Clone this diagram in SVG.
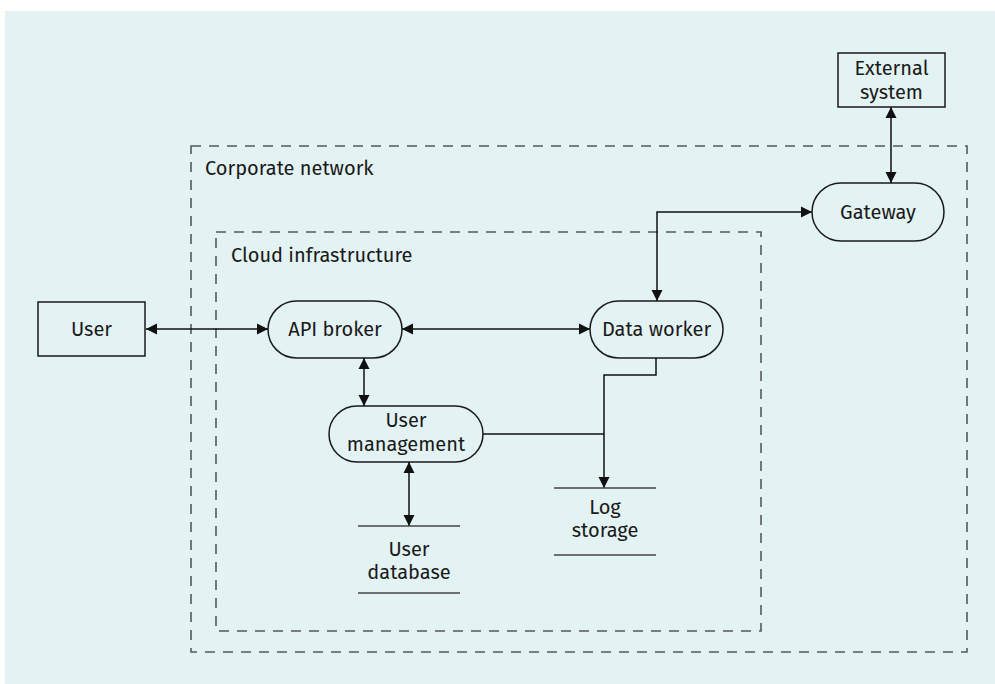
<svg xmlns="http://www.w3.org/2000/svg" width="995" height="684" viewBox="0 0 995 684">
  <style>
    .bg { fill: #e3f2f3; }
    .zone { fill: none; stroke: #555a5c; stroke-width: 1.6; stroke-dasharray: 10 8; }
    .node { fill: #e3f2f3; stroke: #1a1a1a; stroke-width: 1.5; }
    .store { stroke: #444; stroke-width: 1.6; }
    .wire { fill: none; stroke: #111; stroke-width: 1.5; }
    text { font-family: "Fira Sans", "Noto Sans", "Open Sans", sans-serif; font-size: 20px; fill: #1a1a1a; }
    .c { text-anchor: middle; }
  </style>
  <defs>
    <marker id="arrow" viewBox="0 0 12 12" refX="11" refY="6" markerWidth="12" markerHeight="12" markerUnits="userSpaceOnUse" orient="auto-start-reverse">
      <path d="M0,0.5 L11,6 L0,11.5 Z" fill="#111"/>
    </marker>
  </defs>

  <rect class="bg" x="5" y="11" width="990" height="673"/>

  <!-- trust boundaries -->
  <g id="corporate-network">
    <rect class="zone" x="191" y="146" width="776" height="506"/>
    <text x="205" y="175">Corporate network</text>
  </g>
  <g id="cloud-infrastructure">
    <rect class="zone" x="216" y="232" width="545" height="399"/>
    <text x="231" y="262">Cloud infrastructure</text>
  </g>

  <!-- connectors -->
  <g id="connectors">
    <line class="wire" x1="146" y1="329" x2="268" y2="329" marker-start="url(#arrow)" marker-end="url(#arrow)"/>
    <line class="wire" x1="402" y1="329" x2="590" y2="329" marker-start="url(#arrow)" marker-end="url(#arrow)"/>
    <line class="wire" x1="364" y1="358" x2="364" y2="406" marker-start="url(#arrow)" marker-end="url(#arrow)"/>
    <line class="wire" x1="409" y1="462" x2="409" y2="526" marker-start="url(#arrow)" marker-end="url(#arrow)"/>
    <polyline class="wire" points="657,301 657,212 812,212" marker-start="url(#arrow)" marker-end="url(#arrow)"/>
    <line class="wire" x1="891" y1="107" x2="891" y2="183" marker-start="url(#arrow)" marker-end="url(#arrow)"/>
    <polyline class="wire" points="656,358 656,375 604,375 604,488" marker-end="url(#arrow)"/>
    <line class="wire" x1="483" y1="434" x2="604" y2="434"/>
  </g>

  <!-- nodes -->
  <g id="user">
    <rect class="node" x="38" y="302" width="107" height="54"/>
    <text class="c" x="91.5" y="336">User</text>
  </g>
  <g id="api-broker">
    <rect class="node" x="268" y="301" width="134" height="57" rx="28.5"/>
    <text class="c" x="335" y="336">API broker</text>
  </g>
  <g id="data-worker">
    <rect class="node" x="590" y="301" width="133" height="57" rx="28.5"/>
    <text class="c" x="656.5" y="336">Data worker</text>
  </g>
  <g id="user-management">
    <rect class="node" x="329" y="406" width="154" height="56" rx="28"/>
    <text class="c" x="406" y="427">User</text>
    <text class="c" x="406" y="451">management</text>
  </g>
  <g id="gateway">
    <rect class="node" x="812" y="183" width="132" height="58" rx="29"/>
    <text class="c" x="878" y="219">Gateway</text>
  </g>
  <g id="external-system">
    <rect class="node" x="838" y="53" width="107" height="54"/>
    <text class="c" x="891.5" y="75">External</text>
    <text class="c" x="891.5" y="99">system</text>
  </g>
  <g id="user-database">
    <line class="store" x1="358" y1="526" x2="460" y2="526"/>
    <line class="store" x1="358" y1="593" x2="460" y2="593"/>
    <text class="c" x="409" y="556">User</text>
    <text class="c" x="409" y="579">database</text>
  </g>
  <g id="log-storage">
    <line class="store" x1="554" y1="488" x2="656" y2="488"/>
    <line class="store" x1="554" y1="555" x2="656" y2="555"/>
    <text class="c" x="605" y="514">Log</text>
    <text class="c" x="605" y="537">storage</text>
  </g>
</svg>
